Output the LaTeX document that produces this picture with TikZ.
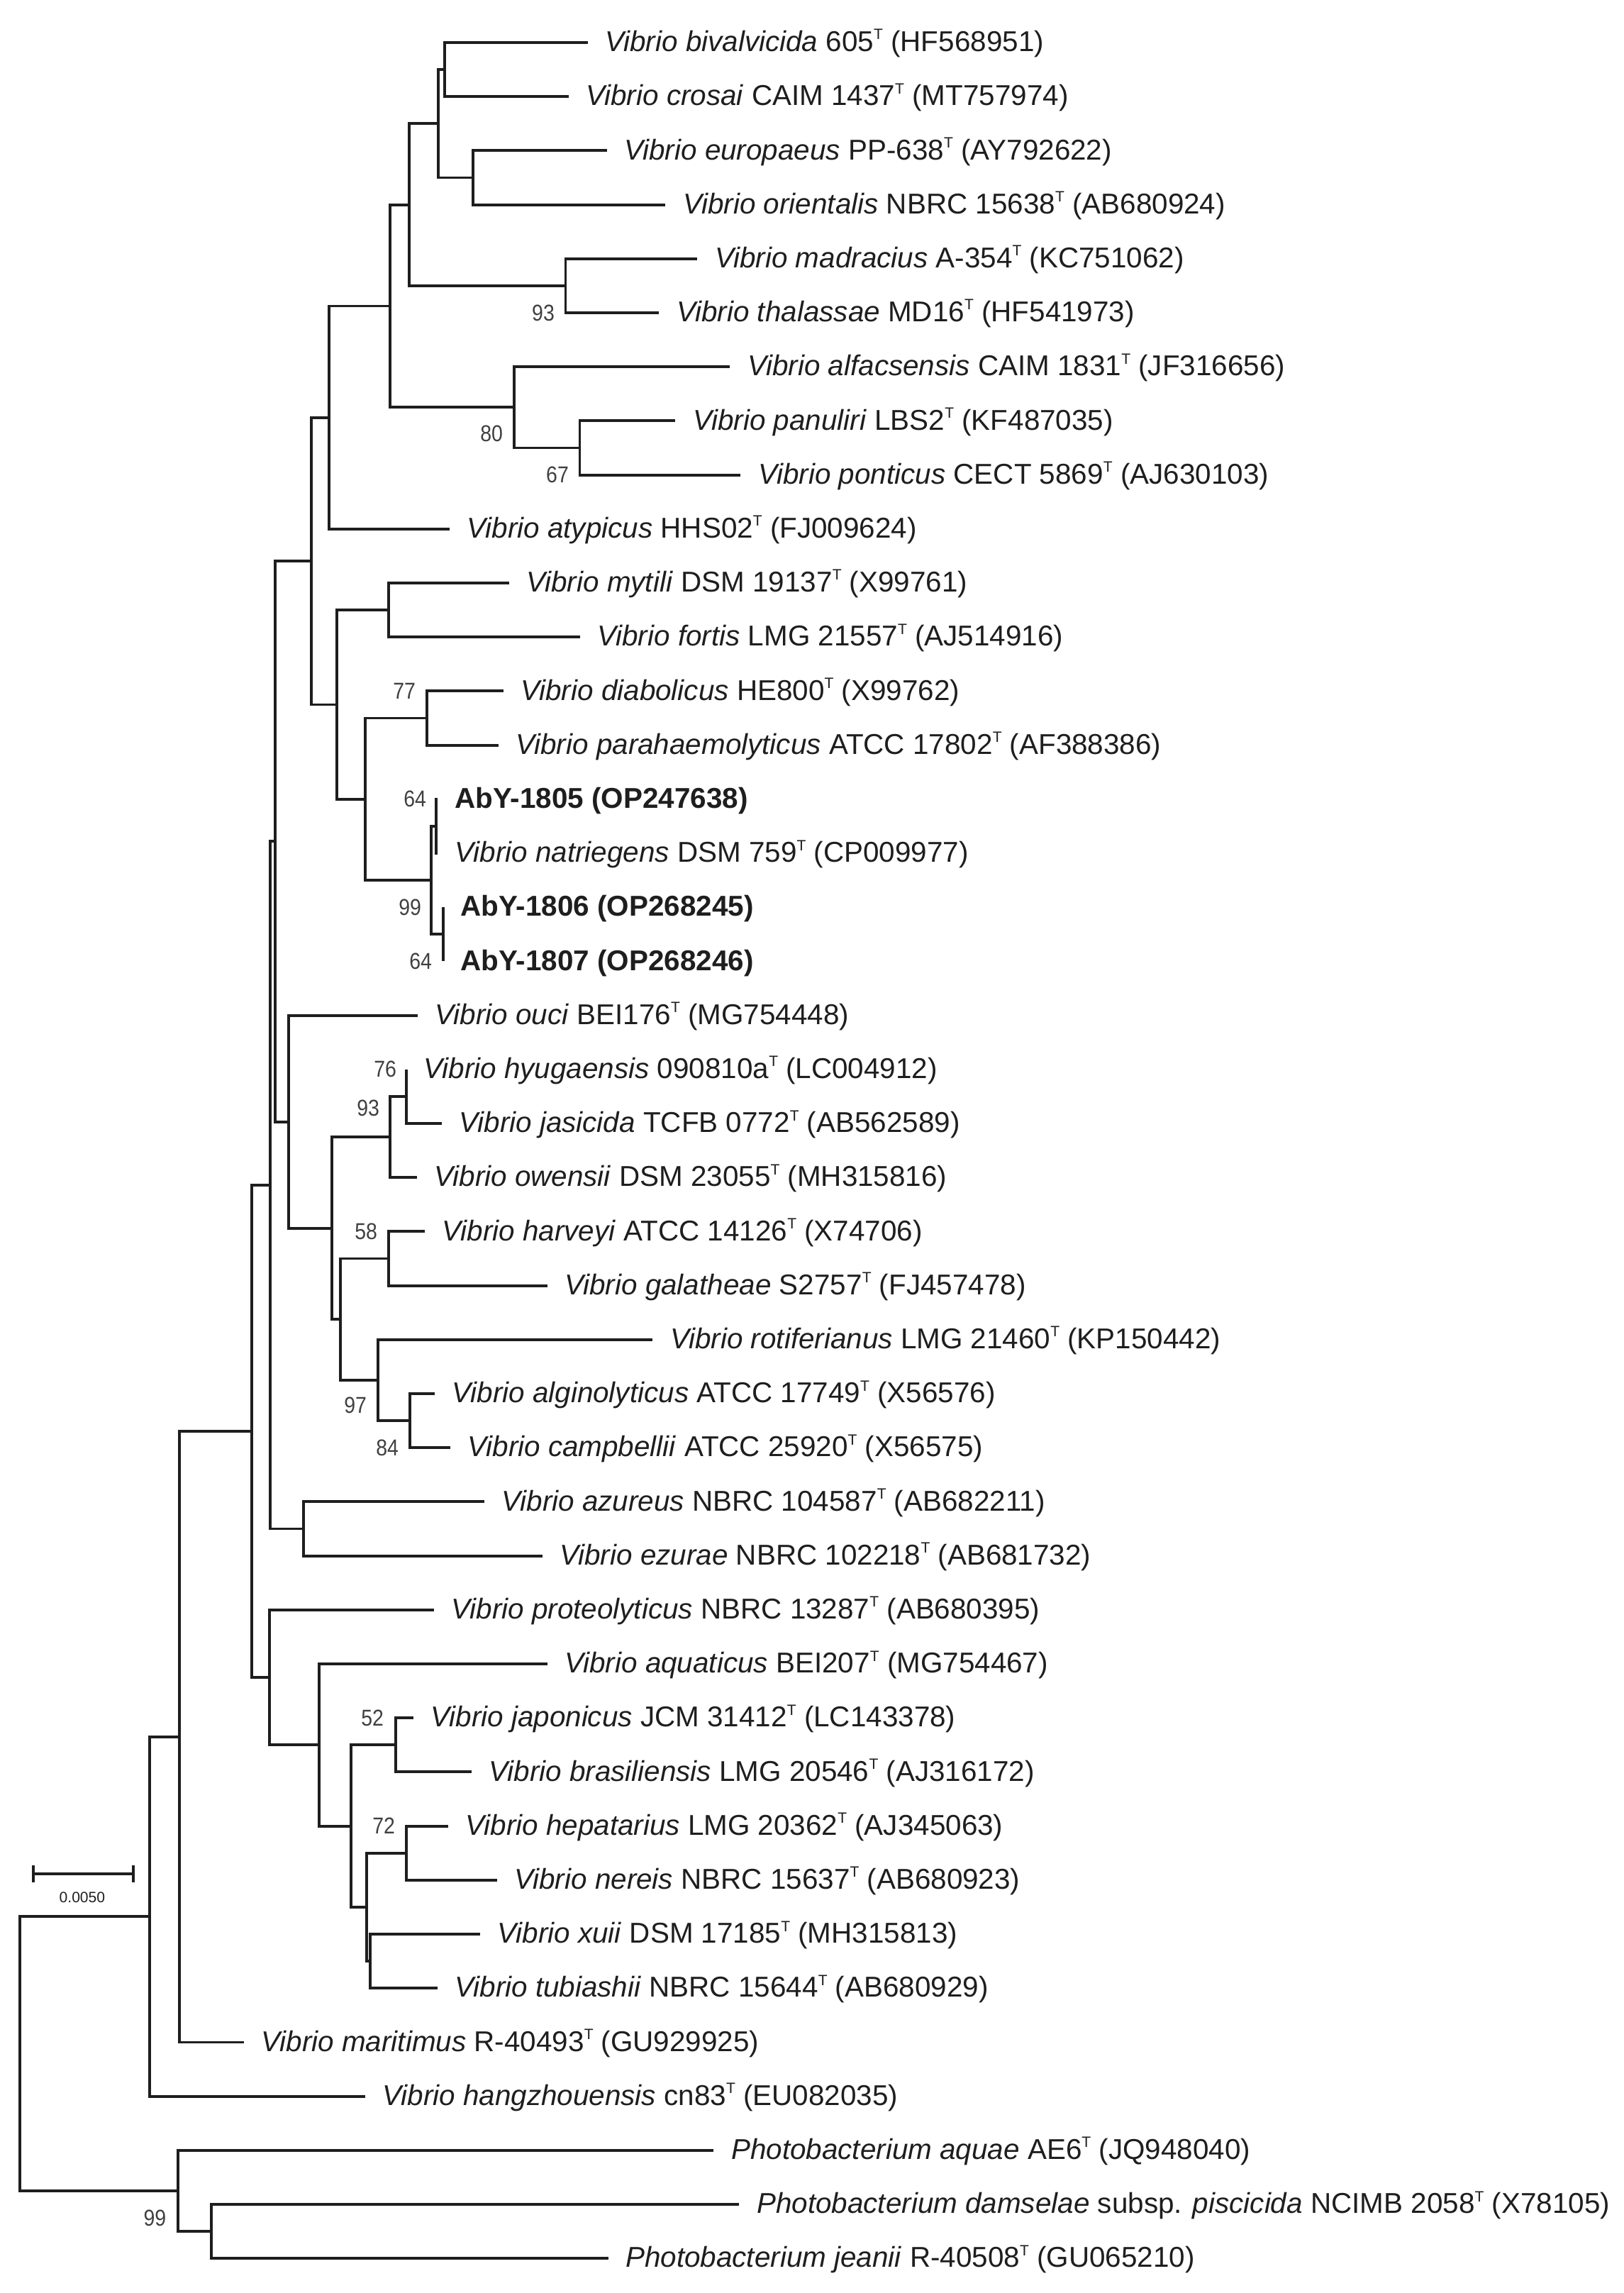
\documentclass[tikz,border=0pt]{standalone}
\usepackage{fontspec}
\setmainfont{Liberation Sans}
\newfontfamily\bsfont[FakeStretch=0.88]{Liberation Sans}
\usetikzlibrary{positioning}

\definecolor{ink}{HTML}{1E1E1E}
\newcommand{\tst}{\raisebox{0.78ex}{\fontsize{6}{6}\selectfont T}}
\newcommand{\leaffont}{\fontsize{11.5}{13}\selectfont}

\tikzset{
  branch/.style={line width=1.1pt, draw=ink},
  lab/.style={anchor=west, inner sep=0pt, xshift=0.24cm, text height=0.72em,
    text depth=0pt, font=\leaffont, text=ink},
  bs/.style={anchor=east, inner sep=0pt, font=\bsfont\fontsize{9.2}{10}\selectfont,
    text=ink!85},
}

\begin{document}
\begin{tikzpicture}[x=0.01cm, y=-0.762cm]
\useasboundingbox ( 0, -0.7874 ) rectangle ( 2291, 41.6404 );

% Spitzen der Blaetter (x = Astende, y = Zeile)
\coordinate (t0)  at (  829,  0 );
\coordinate (t1)  at (  802,  1 );
\coordinate (t2)  at (  856,  2 );
\coordinate (t3)  at (  939,  3 );
\coordinate (t4)  at (  984,  4 );
\coordinate (t5)  at (  930,  5 );
\coordinate (t6)  at ( 1030,  6 );
\coordinate (t7)  at (  953,  7 );
\coordinate (t8)  at ( 1045,  8 );
\coordinate (t9)  at (  634,  9 );
\coordinate (t10) at (  718, 10 );
\coordinate (t11) at (  818, 11 );
\coordinate (t12) at (  710, 12 );
\coordinate (t13) at (  703, 13 );
\coordinate (t14) at (  617, 14 );
\coordinate (t15) at (  617, 15 );
\coordinate (t16) at (  625, 16 );
\coordinate (t17) at (  625, 17 );
\coordinate (t18) at (  589, 18 );
\coordinate (t19) at (  573, 19 );
\coordinate (t20) at (  623, 20 );
\coordinate (t21) at (  588, 21 );
\coordinate (t22) at (  599, 22 );
\coordinate (t23) at (  772, 23 );
\coordinate (t24) at (  921, 24 );
\coordinate (t25) at (  613, 25 );
\coordinate (t26) at (  635, 26 );
\coordinate (t27) at (  683, 27 );
\coordinate (t28) at (  765, 28 );
\coordinate (t29) at (  612, 29 );
\coordinate (t30) at (  772, 30 );
\coordinate (t31) at (  583, 31 );
\coordinate (t32) at (  665, 32 );
\coordinate (t33) at (  632, 33 );
\coordinate (t34) at (  701, 34 );
\coordinate (t35) at (  677, 35 );
\coordinate (t36) at (  617, 36 );
\coordinate (t37) at (  344, 37 );
\coordinate (t38) at (  515, 38 );
\coordinate (t39) at ( 1007, 39 );
\coordinate (t40) at ( 1043, 40 );
\coordinate (t41) at (  858, 41 );

% Innere Knoten
\coordinate (nBC)   at ( 627,  0.5 );
\coordinate (nEO)   at ( 667,  2.5 );
\coordinate (nBCEO) at ( 618,  1.5 );
\coordinate (nMT)   at ( 798,  4.5 );
\coordinate (nA1)   at ( 577,  3 );
\coordinate (nPP)   at ( 818,  7.5 );
\coordinate (nAlf)  at ( 725,  6.75 );
\coordinate (nA2)   at ( 550,  4.875 );
\coordinate (nA3)   at ( 464,  6.9375 );
\coordinate (nMF)   at ( 548, 10.5 );
\coordinate (nDP)   at ( 602, 12.5 );
\coordinate (nP)    at ( 615, 14.5 );
\coordinate (nR)    at ( 625, 16.5 );
\coordinate (nQ)    at ( 608, 15.5 );
\coordinate (nDPQ)  at ( 515, 14 );
\coordinate (nMFD)  at ( 475, 12.25 );
\coordinate (nA4)   at ( 439,  9.59375 );
\coordinate (nHJ)   at ( 573, 19.5 );
\coordinate (nHJO)  at ( 550, 20.25 );
\coordinate (nHG)   at ( 548, 22.5 );
\coordinate (nAC)   at ( 578, 25.5 );
\coordinate (nRot)  at ( 533, 24.75 );
\coordinate (nHGR)  at ( 480, 23.625 );
\coordinate (nHarv) at ( 468, 21.9375 );
\coordinate (nOuci) at ( 407, 19.96875 );
\coordinate (nA5)   at ( 388, 14.78125 );
\coordinate (nAE)   at ( 428, 27.5 );
\coordinate (nA6)   at ( 381, 21.140625 );
\coordinate (nJB)   at ( 558, 31.5 );
\coordinate (nHN)   at ( 573, 33.5 );
\coordinate (nXT)   at ( 522, 35.5 );
\coordinate (nHNXT) at ( 517, 34.5 );
\coordinate (nJBH)  at ( 495, 33 );
\coordinate (nAq)   at ( 450, 31.5 );
\coordinate (nProt) at ( 380, 30.25 );
\coordinate (nB)    at ( 355, 25.6953 );
\coordinate (nMar)  at ( 253, 31.3477 );
\coordinate (nHang) at ( 211, 34.6738 );
\coordinate (nDJ)   at ( 298, 40.5 );
\coordinate (nPhot) at ( 251, 39.75 );
\coordinate (root)  at (  28, 37.2119 );

% Aeste
\draw[branch] (nBC) |- (t0)  (nBC) |- (t1);
\draw[branch] (nEO) |- (t2)  (nEO) |- (t3);
\draw[branch] (nBCEO) |- (nBC)  (nBCEO) |- (nEO);
\draw[branch] (nMT) |- (t4)  (nMT) |- (t5);
\draw[branch] (nA1) |- (nBCEO)  (nA1) |- (nMT);
\draw[branch] (nPP) |- (t7)  (nPP) |- (t8);
\draw[branch] (nAlf) |- (t6)  (nAlf) |- (nPP);
\draw[branch] (nA2) |- (nA1)  (nA2) |- (nAlf);
\draw[branch] (nA3) |- (nA2)  (nA3) |- (t9);
\draw[branch] (nMF) |- (t10)  (nMF) |- (t11);
\draw[branch] (nDP) |- (t12)  (nDP) |- (t13);
\draw[branch] (nP) |- (t14)  (nP) |- (t15);
\draw[branch] (nR) |- (t16)  (nR) |- (t17);
\draw[branch] (nQ) |- (nP)  (nQ) |- (nR);
\draw[branch] (nDPQ) |- (nDP)  (nDPQ) |- (nQ);
\draw[branch] (nMFD) |- (nMF)  (nMFD) |- (nDPQ);
\draw[branch] (nA4) |- (nA3)  (nA4) |- (nMFD);
\draw[branch] (nHJ) |- (t19)  (nHJ) |- (t20);
\draw[branch] (nHJO) |- (nHJ)  (nHJO) |- (t21);
\draw[branch] (nHG) |- (t22)  (nHG) |- (t23);
\draw[branch] (nAC) |- (t25)  (nAC) |- (t26);
\draw[branch] (nRot) |- (t24)  (nRot) |- (nAC);
\draw[branch] (nHGR) |- (nHG)  (nHGR) |- (nRot);
\draw[branch] (nHarv) |- (nHJO)  (nHarv) |- (nHGR);
\draw[branch] (nOuci) |- (t18)  (nOuci) |- (nHarv);
\draw[branch] (nA5) |- (nA4)  (nA5) |- (nOuci);
\draw[branch] (nAE) |- (t27)  (nAE) |- (t28);
\draw[branch] (nA6) |- (nA5)  (nA6) |- (nAE);
\draw[branch] (nJB) |- (t31)  (nJB) |- (t32);
\draw[branch] (nHN) |- (t33)  (nHN) |- (t34);
\draw[branch] (nXT) |- (t35)  (nXT) |- (t36);
\draw[branch] (nHNXT) |- (nHN)  (nHNXT) |- (nXT);
\draw[branch] (nJBH) |- (nJB)  (nJBH) |- (nHNXT);
\draw[branch] (nAq) |- (t30)  (nAq) |- (nJBH);
\draw[branch] (nProt) |- (t29)  (nProt) |- (nAq);
\draw[branch] (nB) |- (nA6)  (nB) |- (nProt);
\draw[branch] (nMar) |- (nB)  (nMar) |- (t37);
\draw[branch] (nHang) |- (nMar)  (nHang) |- (t38);
\draw[branch] (nDJ) |- (t40)  (nDJ) |- (t41);
\draw[branch] (nPhot) |- (t39)  (nPhot) |- (nDJ);
\draw[branch] (root) |- (nHang)  (root) |- (nPhot);

% Namen
\node[lab] (l0)  at (t0)  {\textit{Vibrio bivalvicida} 605\tst{} (HF568951)};
\node[lab] (l1)  at (t1)  {\textit{Vibrio crosai} CAIM 1437\tst{} (MT757974)};
\node[lab] (l2)  at (t2)  {\textit{Vibrio europaeus} PP-638\tst{} (AY792622)};
\node[lab] (l3)  at (t3)  {\textit{Vibrio orientalis} NBRC 15638\tst{} (AB680924)};
\node[lab] (l4)  at (t4)  {\textit{Vibrio madracius} A-354\tst{} (KC751062)};
\node[lab] (l5)  at (t5)  {\textit{Vibrio thalassae} MD16\tst{} (HF541973)};
\node[lab] (l6)  at (t6)  {\textit{Vibrio alfacsensis} CAIM 1831\tst{} (JF316656)};
\node[lab] (l7)  at (t7)  {\textit{Vibrio panuliri} LBS2\tst{} (KF487035)};
\node[lab] (l8)  at (t8)  {\textit{Vibrio ponticus} CECT 5869\tst{} (AJ630103)};
\node[lab] (l9)  at (t9)  {\textit{Vibrio atypicus} HHS02\tst{} (FJ009624)};
\node[lab] (l10) at (t10) {\textit{Vibrio mytili} DSM 19137\tst{} (X99761)};
\node[lab] (l11) at (t11) {\textit{Vibrio fortis} LMG 21557\tst{} (AJ514916)};
\node[lab] (l12) at (t12) {\textit{Vibrio diabolicus} HE800\tst{} (X99762)};
\node[lab] (l13) at (t13) {\textit{Vibrio parahaemolyticus} ATCC 17802\tst{} (AF388386)};
\node[lab] (l14) at (t14) {\textbf{AbY-1805 (OP247638)}};
\node[lab] (l15) at (t15) {\textit{Vibrio natriegens} DSM 759\tst{} (CP009977)};
\node[lab] (l16) at (t16) {\textbf{AbY-1806 (OP268245)}};
\node[lab] (l17) at (t17) {\textbf{AbY-1807 (OP268246)}};
\node[lab] (l18) at (t18) {\textit{Vibrio ouci} BEI176\tst{} (MG754448)};
\node[lab] (l19) at (t19) {\textit{Vibrio hyugaensis} 090810a\tst{} (LC004912)};
\node[lab] (l20) at (t20) {\textit{Vibrio jasicida} TCFB 0772\tst{} (AB562589)};
\node[lab] (l21) at (t21) {\textit{Vibrio owensii} DSM 23055\tst{} (MH315816)};
\node[lab] (l22) at (t22) {\textit{Vibrio harveyi} ATCC 14126\tst{} (X74706)};
\node[lab] (l23) at (t23) {\textit{Vibrio galatheae} S2757\tst{} (FJ457478)};
\node[lab] (l24) at (t24) {\textit{Vibrio rotiferianus} LMG 21460\tst{} (KP150442)};
\node[lab] (l25) at (t25) {\textit{Vibrio alginolyticus} ATCC 17749\tst{} (X56576)};
\node[lab] (l26) at (t26) {\textit{Vibrio campbellii} ATCC 25920\tst{} (X56575)};
\node[lab] (l27) at (t27) {\textit{Vibrio azureus} NBRC 104587\tst{} (AB682211)};
\node[lab] (l28) at (t28) {\textit{Vibrio ezurae} NBRC 102218\tst{} (AB681732)};
\node[lab] (l29) at (t29) {\textit{Vibrio proteolyticus} NBRC 13287\tst{} (AB680395)};
\node[lab] (l30) at (t30) {\textit{Vibrio aquaticus} BEI207\tst{} (MG754467)};
\node[lab] (l31) at (t31) {\textit{Vibrio japonicus} JCM 31412\tst{} (LC143378)};
\node[lab] (l32) at (t32) {\textit{Vibrio brasiliensis} LMG 20546\tst{} (AJ316172)};
\node[lab] (l33) at (t33) {\textit{Vibrio hepatarius} LMG 20362\tst{} (AJ345063)};
\node[lab] (l34) at (t34) {\textit{Vibrio nereis} NBRC 15637\tst{} (AB680923)};
\node[lab] (l35) at (t35) {\textit{Vibrio xuii} DSM 17185\tst{} (MH315813)};
\node[lab] (l36) at (t36) {\textit{Vibrio tubiashii} NBRC 15644\tst{} (AB680929)};
\node[lab] (l37) at (t37) {\textit{Vibrio maritimus} R-40493\tst{} (GU929925)};
\node[lab] (l38) at (t38) {\textit{Vibrio hangzhouensis} cn83\tst{} (EU082035)};
\node[lab] (l39) at (t39) {\textit{Photobacterium aquae} AE6\tst{} (JQ948040)};
\node[lab] (l40) at (t40) {\textit{Photobacterium damselae} subsp. \textit{piscicida} NCIMB 2058\tst{} (X78105)};
\node[lab] (l41) at (t41) {\textit{Photobacterium jeanii} R-40508\tst{} (GU065210)};

% Bootstrap-Werte
\node[bs] (b93a) at ( 783,  5    ) {93};
\node[bs] (b80)  at ( 710,  7.24 ) {80};
\node[bs] (b67)  at ( 803,  8    ) {67};
\node[bs] (b77)  at ( 587, 12    ) {77};
\node[bs] (b64a) at ( 602, 14    ) {64};
\node[bs] (b99a) at ( 595, 16    ) {99};
\node[bs] (b64b) at ( 610, 17    ) {64};
\node[bs] (b76)  at ( 560, 19    ) {76};
\node[bs] (b93b) at ( 536, 19.71 ) {93};
\node[bs] (b58)  at ( 533, 22    ) {58};
\node[bs] (b97)  at ( 518, 25.22 ) {97};
\node[bs] (b84)  at ( 563, 26    ) {84};
\node[bs] (b52)  at ( 542, 31    ) {52};
\node[bs] (b72)  at ( 558, 33    ) {72};
\node[bs] (b99b) at ( 235, 40.25 ) {99};

% Massstab
\coordinate (sbL) at (  47, 33.885 );
\coordinate (sbR) at ( 188, 33.885 );
\draw[branch] (sbL) -- (sbR);
\draw[branch] (sbL) ++(0,-0.16) -- ++(0,0.32);
\draw[branch] (sbR) ++(0,-0.16) -- ++(0,0.32);
\node[inner sep=0pt, font=\fontsize{6}{7}\selectfont, text=ink] (sblab) at ( 116, 34.318 ) {0.0050};

\end{tikzpicture}
\end{document}
